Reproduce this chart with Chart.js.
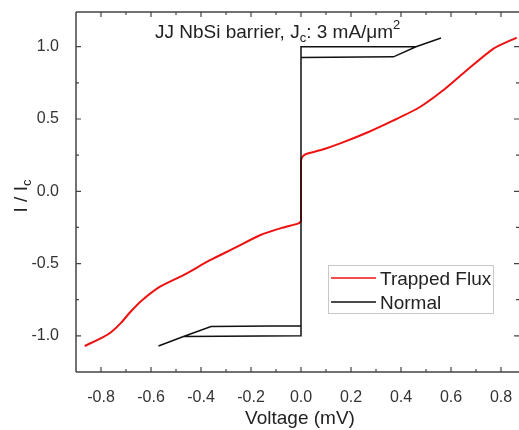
<!DOCTYPE html>
<html>
<head>
<meta charset="utf-8">
<script src="https://cdn.jsdelivr.net/npm/chart.js@4"></script>
<style>
  html, body { margin: 0; padding: 0; background: #fff; }
  #wrap { width: 519px; height: 430px; }
</style>
</head>
<body>
<div id="wrap"><canvas id="ivChart" width="519" height="430"></canvas></div>
<script>
// trapped flux branch (red)
const fluxV = [-0.865, -0.79, -0.76, -0.72, -0.68, -0.64, -0.564, -0.47, -0.364, -0.271, -0.164, -0.08, -0.01, -0.003, 0, 0, 0, 0, 0.006, 0.023, 0.08, 0.17, 0.27, 0.37, 0.476, 0.57, 0.663, 0.77, 0.863];
const fluxI = [-1.07, -1.007, -0.975, -0.91, -0.83, -0.76, -0.66, -0.58, -0.477, -0.397, -0.304, -0.255, -0.222, -0.212, -0.205, -0.19, 0.2, 0.215, 0.24, 0.26, 0.285, 0.34, 0.41, 0.49, 0.583, 0.70, 0.837, 0.987, 1.063];
// normal hysteresis loop (black)
const normV = [-0.57, -0.47, 0, 0, 0.37, 0.46, 0.56, 0.46, 0, 0, -0.36, -0.47, -0.57];
const normI = [-1.07, -1.005, -1.0, 0.925, 0.93, 1.0, 1.06, 1.0, 1.0, -0.93, -0.935, -1.005, -1.07];

const xTicks = [-0.8, -0.7, -0.6, -0.5, -0.4, -0.3, -0.2, -0.1, 0, 0.1, 0.2, 0.3, 0.4, 0.5, 0.6, 0.7, 0.8];
const yTicks = [-1.0, -0.75, -0.5, -0.25, 0, 0.25, 0.5, 0.75, 1.0];

const zip = (xs, ys) => xs.map((x, i) => ({ x: x, y: ys[i] }));
const axisCol = '#444';
const fontFam = '"Liberation Sans", Arial, sans-serif';

const isMajor = (v, step) => Math.abs(Math.round(v / step) * step - v) < 1e-6;

const framePlugin = {
  id: 'frame',
  afterDraw(chart) {
    const c = chart.ctx, a = chart.chartArea;
    const sx = chart.scales.x, sy = chart.scales.y;
    c.save();
    c.strokeStyle = axisCol;
    c.lineWidth = 1.5;
    c.beginPath();
    c.moveTo(a.left, a.top); c.lineTo(a.right, a.top);
    c.moveTo(a.left, a.top); c.lineTo(a.left, a.bottom);
    c.moveTo(a.left, a.bottom); c.lineTo(a.right, a.bottom);
    c.stroke();
    c.lineWidth = 1.2;
    c.beginPath();
    xTicks.forEach(v => {
      const px = sx.getPixelForValue(v);
      const len = isMajor(v, 0.2) ? 5 : 3;
      c.moveTo(px, a.bottom); c.lineTo(px, a.bottom - len);
      c.moveTo(px, a.top); c.lineTo(px, a.top + len);
    });
    yTicks.forEach(v => {
      const py = sy.getPixelForValue(v);
      const len = isMajor(v, 0.5) ? 5 : 3;
      c.moveTo(a.left, py); c.lineTo(a.left + len, py);
      c.moveTo(a.right, py); c.lineTo(a.right - len, py);
    });
    c.stroke();

    // title inside the plot
    c.fillStyle = '#222';
    c.textBaseline = 'alphabetic';
    c.textAlign = 'left';
    let x = 155, y = 38;
    const big = '19px ' + fontFam, small = '13px ' + fontFam;
    const put = (t, f, dy) => { c.font = f; c.fillText(t, x, y + dy); x += c.measureText(t).width; };
    put('JJ NbSi barrier, J', big, 0);
    put('c', small, 4);
    put(': 3 mA/\u03bcm', big, 0);
    put('2', small, -9);

    // axis titles
    c.font = '19px ' + fontFam;
    c.textAlign = 'center';
    c.fillText('Voltage (mV)', 300, 424);
    c.save();
    c.translate(27, 196);
    c.rotate(-Math.PI / 2);
    c.textAlign = 'left';
    c.font = '19px ' + fontFam;
    const w1 = c.measureText('I / I').width;
    c.font = '13px ' + fontFam;
    const w2 = c.measureText('c').width;
    const tx = -(w1 + w2) / 2;
    c.font = '19px ' + fontFam;
    c.fillText('I / I', tx, 0);
    c.font = '13px ' + fontFam;
    c.fillText('c', tx + w1, 4);
    c.restore();

    // legend box
    c.fillStyle = '#fff';
    c.fillRect(328, 265, 165, 48);
    c.strokeStyle = '#c8c8c8';
    c.lineWidth = 1;
    c.strokeRect(328.5, 265.5, 165, 48);
    c.lineWidth = 1.5;
    c.strokeStyle = '#ee1111';
    c.beginPath(); c.moveTo(331, 278); c.lineTo(376, 278); c.stroke();
    c.strokeStyle = '#111';
    c.beginPath(); c.moveTo(331, 302); c.lineTo(376, 302); c.stroke();
    c.fillStyle = '#222';
    c.font = '19px ' + fontFam;
    c.textAlign = 'left';
    c.textBaseline = 'alphabetic';
    c.fillText('Trapped Flux', 380, 285);
    c.fillText('Normal', 380, 309);
    c.restore();
  }
};

new Chart(document.getElementById('ivChart'), {
  type: 'scatter',
  data: {
    datasets: [
      {
        label: 'Normal',
        data: zip(normV, normI),
        showLine: true,
        borderColor: '#111',
        borderWidth: 1.5,
        pointRadius: 0,
        tension: 0
      },
      {
        label: 'Trapped Flux',
        data: zip(fluxV, fluxI),
        showLine: true,
        borderColor: '#ee1111',
        borderWidth: 2,
        pointRadius: 0,
        tension: 0.2
      }
    ]
  },
  options: {
    responsive: false,
    animation: false,
    layout: { padding: { top: 12, right: 0, left: 0, bottom: 0 } },
    plugins: { legend: { display: false }, tooltip: { enabled: false } },
    scales: {
      x: {
        type: 'linear',
        min: -0.9,
        max: 0.872,
        grid: { display: false },
        border: { display: false },
        afterBuildTicks: s => { s.ticks = xTicks.map(v => ({ value: v })); },
        afterFit: s => { s.height = 58; s.paddingLeft = 0; s.paddingRight = 0; },
        ticks: {
          autoSkip: false,
          maxRotation: 0,
          padding: 8,
          color: '#333',
          font: { family: fontFam, size: 16 },
          callback: v => isMajor(v, 0.2) ? v.toFixed(1) : ''
        }
      },
      y: {
        type: 'linear',
        min: -1.25,
        max: 1.24,
        grid: { display: false },
        border: { display: false },
        afterBuildTicks: s => { s.ticks = yTicks.map(v => ({ value: v })); },
        afterFit: s => { s.width = 76; s.paddingTop = 0; s.paddingBottom = 0; },
        ticks: {
          autoSkip: false,
          padding: 9,
          color: '#333',
          font: { family: fontFam, size: 16 },
          callback: v => isMajor(v, 0.5) ? v.toFixed(1) : ''
        }
      }
    }
  },
  plugins: [framePlugin]
});
</script>
</body>
</html>
